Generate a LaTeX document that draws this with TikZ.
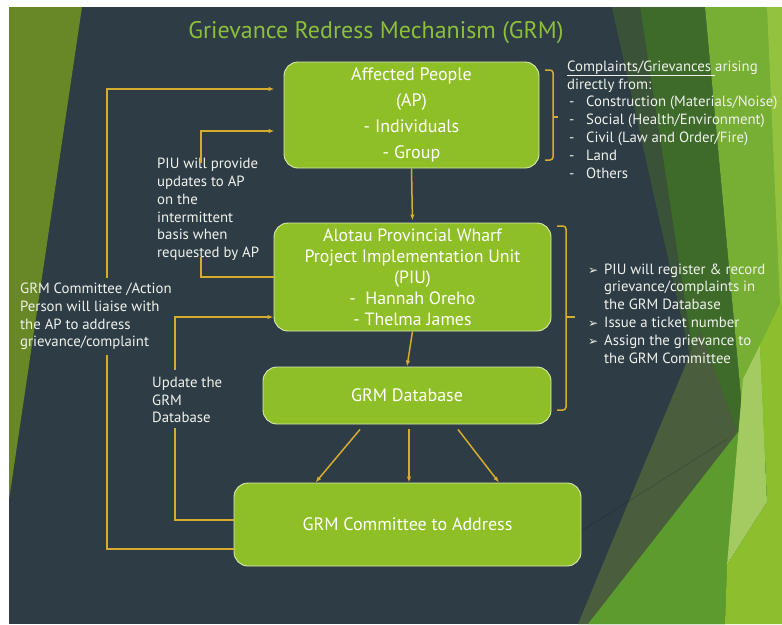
\documentclass[tikz,border=0pt]{standalone}
\usepackage{fontspec}
\setmainfont{PT Sans}
\newfontfamily\dejavu{DejaVu Sans}
\usetikzlibrary{arrows.meta,calc}
\definecolor{bg}{RGB}{45,60,69}
\definecolor{boxg}{RGB}{143,191,39}
\definecolor{boxb}{RGB}{218,234,178}
\definecolor{gold}{RGB}{214,172,46}
\definecolor{titleg}{RGB}{141,191,58}
\definecolor{leftg}{RGB}{104,135,38}
\definecolor{fgray}{RGB}{58,82,55}
\definecolor{fdark}{RGB}{62,106,42}
\definecolor{fbright}{RGB}{118,175,52}
\definecolor{flight}{RGB}{147,194,63}
\definecolor{folive}{RGB}{74,93,60}
\definecolor{fmid}{RGB}{92,155,46}
\definecolor{fpale}{RGB}{163,203,98}
\definecolor{fbright2}{RGB}{140,191,46}
\definecolor{ftext}{RGB}{240,242,236}
\tikzset{
  flowbox/.style={rounded corners=14pt, fill=boxg, draw=boxb, line width=0.9pt,
    text=white, align=center, inner sep=0pt},
  goldline/.style={draw=gold, line width=1.5pt},
  goldarrow/.style={goldline, -{Latex[length=6pt,width=4.5pt]}},
  note/.style={text=ftext, align=left, inner sep=0pt, anchor=west,
    font=\fontsize{14.8}{17.8}\selectfont},
  bul/.style={},
}
\newcommand{\arrbul}{\makebox[16pt][l]{\dejavu\fontsize{12}{12}\selectfont ➢}}
\begin{document}
\begin{tikzpicture}[x=1pt,y=-1pt]
\useasboundingbox (0,0) rectangle (782,624);
\fill[white] (0,0) rectangle (782,624);
\fill[bg] (9,7) rectangle (782,624);
% left facet
\fill[leftg] (9,7) -- (82,7) -- (9,500) -- cycle;
% right facets
\fill[fdark] (612,7) -- (705,7) -- (745,440) -- (700,400) -- cycle;
\fill[fgray] (612,7) -- (640,7) -- (700,400) -- cycle;
\fill[fbright] (705,7) -- (782,7) -- (782,460) -- (745,440) -- cycle;
\fill[flight] (767,7) -- (782,7) -- (782,350) -- cycle;
\fill[folive] (578,624) -- (700,330) -- (740,440) -- (725,624) -- cycle;
\fill[fmid] (588,624) -- (738,432) -- (745,440) -- (727,565) -- (725,624) -- cycle;
\fill[fpale] (743,379) -- (760,345) -- (767,502) -- (727,565) -- cycle;
\fill[fbright2] (725,624) -- (727,565) -- (767,502) -- (760,345) -- (782,300) -- (782,624) -- cycle;
\draw[black, opacity=0.18, line width=0.5pt] (580,532) -- (727,439);

% title
\node[text=titleg, font=\fontsize{24}{28}\selectfont, inner sep=0pt] (title) at (376,33) {Grievance Redress Mechanism (GRM)};

% boxes
\node[flowbox, minimum width=255pt, minimum height=106pt, font=\fontsize{18}{26}\selectfont] (AP) at (411.5,115)
  {Affected People\\(AP)\\- Individuals\\- Group};
\node[flowbox, minimum width=277pt, minimum height=108pt, font=\fontsize{17.8}{21}\selectfont] (PIU) at (412.5,277)
  {Alotau Provincial Wharf\\Project Implementation Unit\\(PIU)\\-\ \ Hannah Oreho\\- Thelma James};
\node[flowbox, minimum width=288pt, minimum height=57pt, font=\fontsize{18}{21}\selectfont] (DB) at (407,395.5)
  {GRM Database};
\node[flowbox, minimum width=347pt, minimum height=83pt, font=\fontsize{18}{21}\selectfont] (COM) at (407.5,524.5)
  {GRM Committee to Address};

% notes
\node[note] (n1) at (157,209.5) {PIU will provide\\updates to AP\\on the\\intermittent\\basis when\\requested by AP};
\node[note] (n2) at (20,316.5) {GRM Committee /Action\\Person will liaise with\\the AP to address\\grievance/complaint};
\node[note] (n3) at (152,400) {Update the\\GRM\\Database};
\node[note] (n4) at (567,119.5) {\underline{Complaints/Grievances }arising\\directly from:\\
  \hspace*{2pt}\makebox[17pt][l]{-}Construction (Materials/Noise)\\
  \hspace*{2pt}\makebox[17pt][l]{-}Social (Health/Environment)\\
  \hspace*{2pt}\makebox[17pt][l]{-}Civil (Law and Order/Fire)\\
  \hspace*{2pt}\makebox[17pt][l]{-}Land\\
  \hspace*{2pt}\makebox[17pt][l]{-}Others};
\node[note] (n5) at (588,313.5) {\arrbul PIU will register \& record\\
  \hspace*{16pt}grievance/complaints in\\
  \hspace*{16pt}the GRM Database\\
  \arrbul Issue a ticket number\\
  \arrbul Assign the grievance to\\
  \hspace*{16pt}the GRM Committee};

% main arrows
\draw[goldarrow, shorten >=2pt] (AP.south) -- (PIU.north);
\draw[goldarrow] (PIU.south) -- (DB.north);
\draw[goldarrow] ($(DB.south)+(-47,5)$) -- ($(COM.north)+(-92,0)$);
\draw[goldarrow] ($(DB.south)+(2,5)$) -- ($(COM.north)+(1.5,0)$);
\draw[goldarrow] ($(DB.south)+(51,5)$) -- ($(COM.north)+(91.5,0)$);

% loop coordinates
\coordinate (oA) at (107,355);
\coordinate (oB) at (107,278);
\coordinate (iA) at (201,257);
\coordinate (iB) at (201,163);
\coordinate (uA) at (175,428);
\coordinate (uB) at (175,370);

% outer loop: committee -> AP
\draw[goldline] ($(COM.west)+(0,24.5)$) -| (oA);
\draw[goldarrow, shorten >=9pt] (oB) |- ($(AP.west)+(0,-26)$);
% inner loop: PIU -> AP
\draw[goldline] (PIU.west) -| (iA);
\draw[goldarrow, shorten >=9pt] (iB) |- ($(AP.west)+(0,16)$);
% update loop: committee -> PIU
\draw[goldline] ($(COM.west)+(0,-4.5)$) -| (uA);
\draw[goldarrow] (uB) |- ($(PIU.west)+(0,40)$);

% brackets
\draw[goldline, rounded corners=3pt] (545,70) -- (553,70) -- (553,160) -- (545,160);
\draw[goldline] (553,117) -- (558,117);
\draw[goldline, rounded corners=3pt] (557,226) -- (566,226) -- (566,410) -- (557,410);
\draw[goldline] (566,317) -- (575,317);
\end{tikzpicture}
\end{document}
